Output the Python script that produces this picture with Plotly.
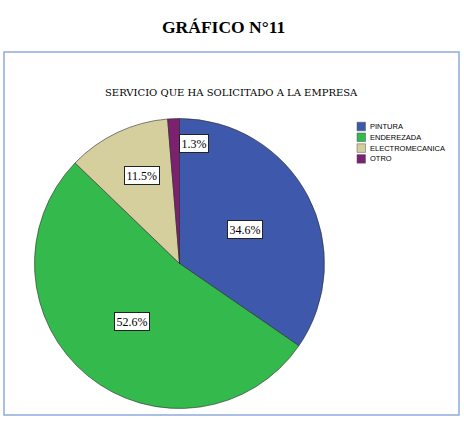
import math
import plotly.graph_objects as go

categories = ["PINTURA", "ENDEREZADA", "ELECTROMECANICA", "OTRO"]
values = [34.6, 52.6, 11.5, 1.3]
colors = ["#3e58ac", "#33b94c", "#d5cf9e", "#7b2170"]
label_text = ["34.6%", "52.6%", "11.5%", "1.3%"]

W, H = 464, 421
cx, cy, R = 179.5, 263.5, 145  # pie centre / radius in pixels

fig = go.Figure(go.Pie(
    labels=categories, values=values, sort=False, direction="clockwise", rotation=0,
    marker=dict(colors=colors, line=dict(color="#2a2a2a", width=0.6)),
    textinfo="none", hoverinfo="label+percent", showlegend=False,
    domain=dict(x=[(cx - R) / W, (cx + R) / W], y=[1 - (cy + R) / H, 1 - (cy - R) / H]),
))

def px(x, y):
    return x / W, 1 - y / H

# boxed percentage labels placed at the mid-angle of each slice
radial = [0.51, 0.52, 0.67, 0.83]
dx_px = [0, 0, 4, 19]
total = sum(values)
cum = 0
for v, t, rf, dx in zip(values, label_text, radial, dx_px):
    mid = (cum + v / 2) / total * 2 * math.pi
    cum += v
    x, y = px(cx + rf * R * math.sin(mid) + dx, cy - rf * R * math.cos(mid))
    fig.add_annotation(x=x, y=y, xref="paper", yref="paper", xanchor="center", yanchor="middle",
                       text=t, showarrow=False, bgcolor="white", bordercolor="#222", borderwidth=1,
                       borderpad=1.5, font=dict(family="Liberation Serif", size=12, color="black"))

x, y = px(223, 27)
fig.add_annotation(x=x, y=y, xref="paper", yref="paper", xanchor="center", yanchor="middle",
                   text="<b>GRÁFICO N°11</b>", showarrow=False,
                   font=dict(family="Liberation Serif", size=17.5, color="black"))
x, y = px(231.5, 93)
fig.add_annotation(x=x, y=y, xref="paper", yref="paper", xanchor="center", yanchor="middle",
                   text="SERVICIO QUE HA SOLICITADO A LA EMPRESA", showarrow=False,
                   font=dict(family="DejaVu Serif", size=10, color="black"))

x0, y0 = px(4, 415)
x1, y1 = px(459, 52)
fig.add_shape(type="rect", xref="paper", yref="paper", x0=x0, x1=x1, y0=y0, y1=y1,
              line=dict(color="#8eaadb", width=1.5))

# compact legend
leg_x, leg_y0, leg_step = 357, 126.5, 10.8
for i, (cat, col) in enumerate(zip(categories, colors)):
    yc = leg_y0 + i * leg_step
    ax0, ay0 = px(leg_x, yc + 4.3)
    ax1, ay1 = px(leg_x + 8.5, yc - 4.3)
    fig.add_shape(type="rect", xref="paper", yref="paper", x0=ax0, x1=ax1, y0=ay0, y1=ay1,
                  fillcolor=col, line=dict(color="#555", width=0.5))
    tx, ty = px(leg_x + 10.5, yc)
    fig.add_annotation(x=tx, y=ty, xref="paper", yref="paper", xanchor="left", yanchor="middle",
                       text=cat, showarrow=False,
                       font=dict(family="Liberation Sans", size=7.5, color="black"))

fig.update_layout(
    width=W, height=H, margin=dict(l=0, r=0, t=0, b=0),
    paper_bgcolor="white", plot_bgcolor="white",
    showlegend=False,
)

fig.write_html("out.html")
